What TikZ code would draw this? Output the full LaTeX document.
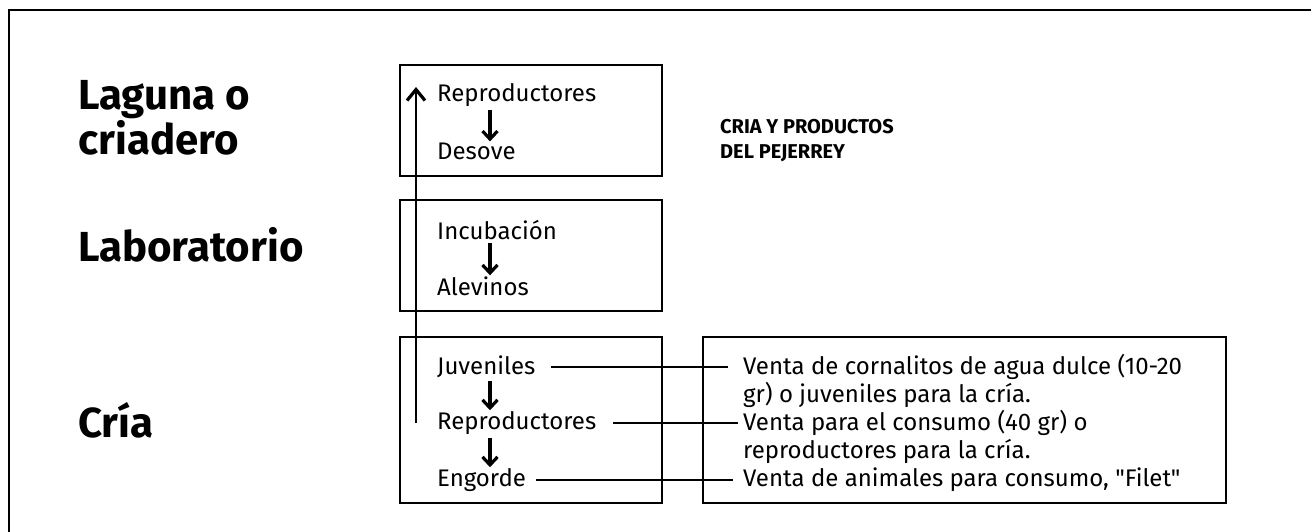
\documentclass[tikz,border=0pt]{standalone}
\usepackage{fontspec}
\setmainfont{Fira Sans}[Ligatures=TeXOff]
\usetikzlibrary{arrows.meta,calc}
\begin{document}
\begin{tikzpicture}[x=1pt,y=-1pt,
  frame/.style={line width=2.2pt},
  stagebox/.style={draw,line width=2.3pt},
  lbl/.style={font=\fontsize{42}{44}\selectfont\bfseries,anchor=west,inner sep=0pt},
  item/.style={font=\fontsize{24}{28}\selectfont,anchor=west,inner sep=0pt},
  title/.style={font=\fontsize{20}{24}\selectfont\bfseries,anchor=west,inner sep=0pt},
  dnarrow/.style={line width=3.2pt,-{Straight Barb[length=8pt,width=15pt,line width=3.2pt]}},
  uparrow/.style={line width=2.4pt,-{Straight Barb[length=11pt,width=18pt,line width=3.2pt]}},
  link/.style={line width=1.8pt}]
\useasboundingbox (0,0) rectangle (1311,532);
% outer frame
\coordinate (fbl) at (9,532);
\coordinate (ftl) at (9,10);
\coordinate (ftr) at (1311,10);
\draw[frame] (fbl) -- (ftl) -- (ftr);
% boxes
\draw[stagebox] (400,65) rectangle (662,176);
\draw[stagebox] (400,200) rectangle (662,311);
\draw[stagebox] (400,337) rectangle (662,503);
\draw[stagebox] (703,337) rectangle (1226,503);
% left labels
\node[lbl] (lag) at (78,100) {Laguna o};
\node[lbl] (cri) at (78,138) {criadero};
\node[lbl] (lab) at (78,245) {Laboratorio};
\node[lbl] (cria) at (78,420) {Cría};
% title
\node[title] (tit1) at (720,127) {CRIA Y PRODUCTOS};
\node[title] (tit2) at (720,153) {DEL PEJERREY};
% stage items
\node[item] (r1) at (437,95) {Reproductores};
\node[item] (d1) at (437,151) {Desove};
\node[item] (i2) at (437,230) {Incubación};
\node[item] (a2) at (437,286) {Alevinos};
\node[item] (j3) at (437,367) {Juveniles};
\node[item] (r3) at (437,423) {Reproductores};
\node[item] (e3) at (437,480) {Engorde};
% sale texts
\node[item] (v1a) at (743,367) {Venta de cornalitos de agua dulce (10-20};
\node[item] (v1b) at (743,395) {gr) o juveniles para la cría.};
\node[item] (v2a) at (743,423) {Venta para el consumo (40 gr) o};
\node[item] (v2b) at (743,451) {reproductores para la cría.};
\node[item] (v3) at (743,480) {Venta de animales para consumo, "Filet"};
% down arrows
\coordinate (ax) at (490,0);
\draw[dnarrow] ($(r1.south -| ax)+(0,3)$) -- ($(d1.north -| ax)+(0,-1)$);
\draw[dnarrow] ($(i2.south -| ax)+(0,3)$) -- ($(a2.north -| ax)+(0,-1)$);
\draw[dnarrow] ($(j3.south -| ax)+(0,3)$) -- ($(r3.north -| ax)+(0,-1)$);
\draw[dnarrow] ($(r3.south -| ax)+(0,3)$) -- ($(e3.north -| ax)+(0,-1)$);
% long up arrow
\coordinate (ux) at (416,0);
\draw[uparrow] (ux |- r3.west) -- ($(ux |- r1.west)+(0,-8)$);
% links
\draw[link] ($(j3.east)+(15,0)$) -- ($(v1a.west)+(-15,0)$);
\draw[link] ($(r3.east)+(17,0)$) -- ($(v2a.west)+(-5,0)$);
\draw[link] ($(e3.east)+(10,0)$) -- ($(v3.west)+(-10,0)$);
\end{tikzpicture}
\end{document}
